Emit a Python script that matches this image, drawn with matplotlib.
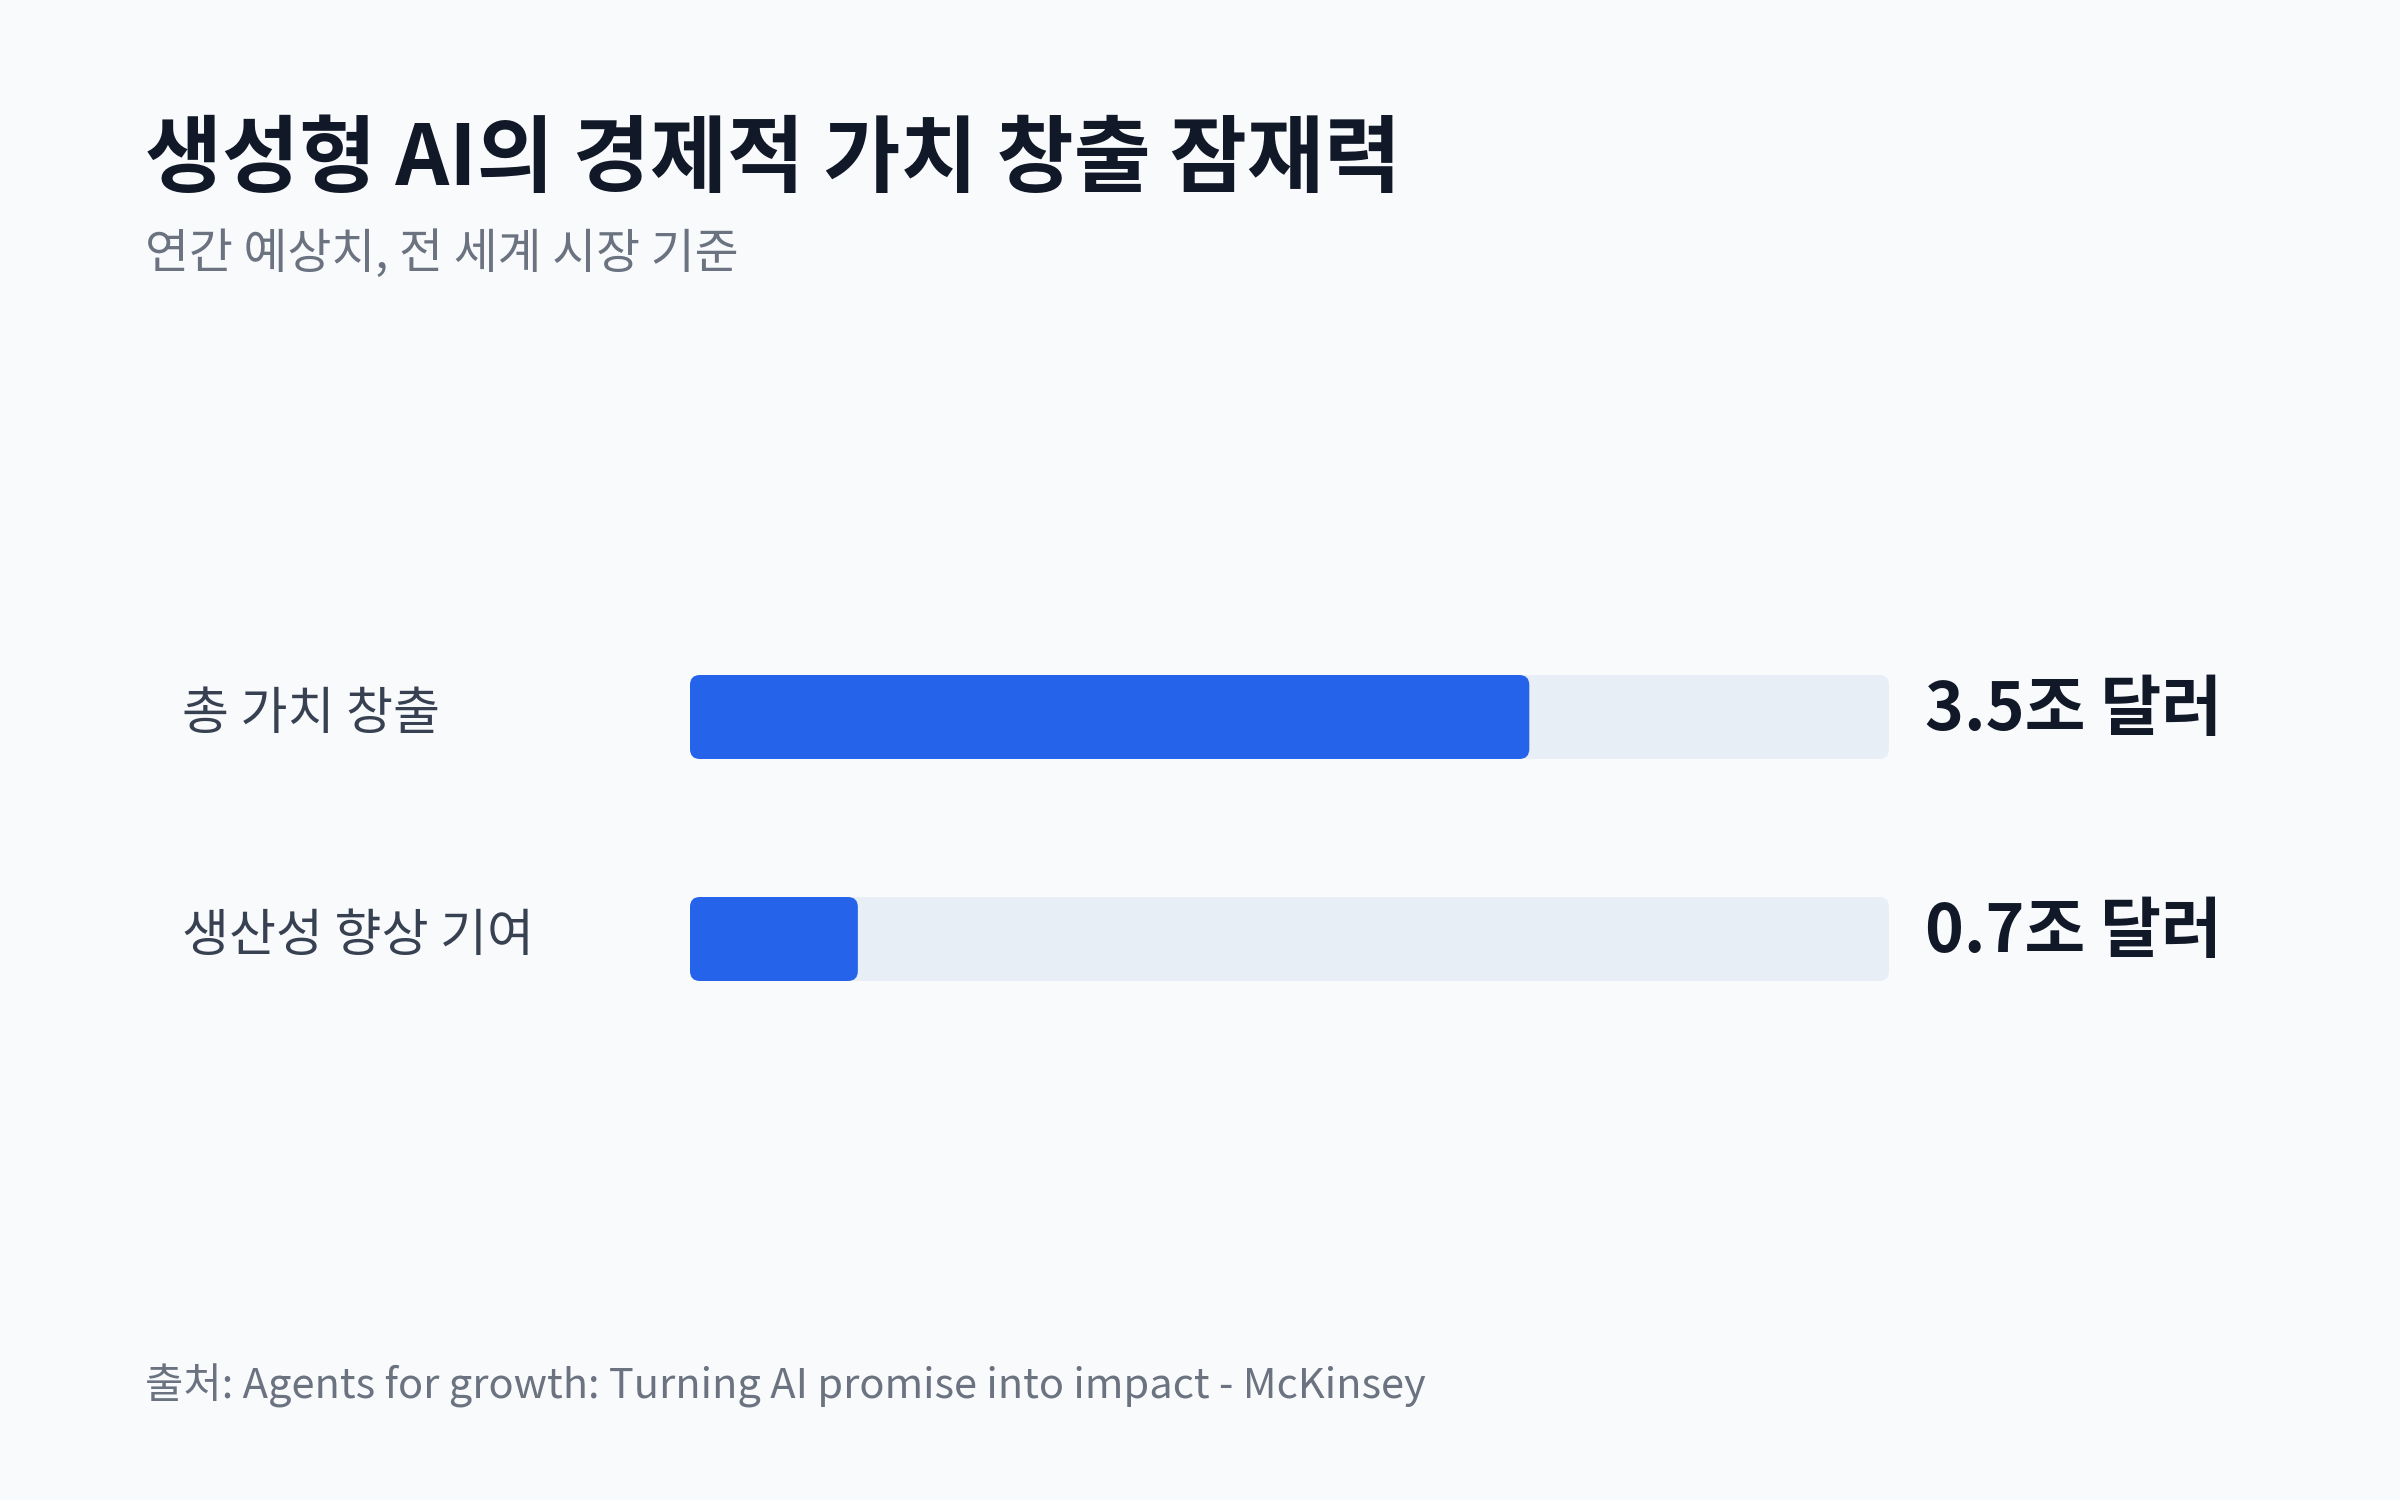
import matplotlib
matplotlib.use('Agg')
import matplotlib.pyplot as plt
from matplotlib.patches import FancyBboxPatch

plt.rcParams['font.family'] = ['Noto Sans CJK KR', 'DejaVu Sans']

# data
categories = ['총 가치 창출', '생산성 향상 기여']
values = [3.5, 0.7]  # 조 달러
value_labels = ['3.5조 달러', '0.7조 달러']
x_max = 5.0

title = '생성형 AI의 경제적 가치 창출 잠재력'
subtitle = '연간 예상치, 전 세계 시장 기준'
source = '출처: Agents for growth: Turning AI promise into impact - McKinsey'

BG = '#f8fafc'
BLUE = '#2563eb'
TRACK = '#e8eef6'
DARK = '#111827'
LABEL = '#374151'
GRAY = '#6b7280'

W, H, DPI = 2400, 1500, 200
fig = plt.figure(figsize=(W / DPI, H / DPI), dpi=DPI, facecolor=BG)

# axes placed in pixel space: track from x=690 to 1889, rows centered at 717 / 939
ax_left, ax_right = 690, 1889
ax_top, ax_bottom = 606, 1050
ax = fig.add_axes([ax_left / W, 1 - ax_bottom / H,
                   (ax_right - ax_left) / W, (ax_bottom - ax_top) / H])
ax.set_facecolor(BG)
ax.set_xlim(0, x_max)
ax.set_ylim(1.5, -0.5)
ax.axis('off')

px_x = x_max / (ax_right - ax_left)      # data units per pixel in x
px_y = 2.0 / (ax_bottom - ax_top)         # data units per pixel in y
bar_h = 84 * px_y
radius = 10 * px_x
aspect = px_y / px_x


def rounded_bar(x0, width, yc, color):
    patch = FancyBboxPatch((x0, yc - bar_h / 2), width, bar_h,
                           boxstyle=f'round,pad=0,rounding_size={radius}',
                           mutation_aspect=aspect, linewidth=0,
                           facecolor=color, edgecolor='none')
    ax.add_patch(patch)


for i, (cat, val, lab) in enumerate(zip(categories, values, value_labels)):
    rounded_bar(0, x_max, i, TRACK)
    rounded_bar(0, val, i, BLUE)
    # category label on the left
    ax.annotate(cat, xy=(0, i), xytext=(182 - ax_left, -12),
                textcoords='offset pixels', ha='left', va='baseline',
                fontsize=18.4, color=LABEL)
    # value label to the right of the track
    ax.annotate(lab, xy=(x_max, i), xytext=(36, -13),
                textcoords='offset pixels', ha='left', va='baseline',
                fontsize=23.8, fontweight='bold', color=DARK)

fig.text(145 / W, 1 - 185 / H, title, ha='left', va='baseline',
         fontsize=30.2, fontweight='bold', color=DARK)
fig.text(145 / W, 1 - 268 / H, subtitle, ha='left', va='baseline',
         fontsize=17.2, color=GRAY)
fig.text(145 / W, 1 - 1398 / H, source, ha='left', va='baseline',
         fontsize=15, color=GRAY)

fig.savefig('out.png', dpi=DPI, facecolor=BG)
